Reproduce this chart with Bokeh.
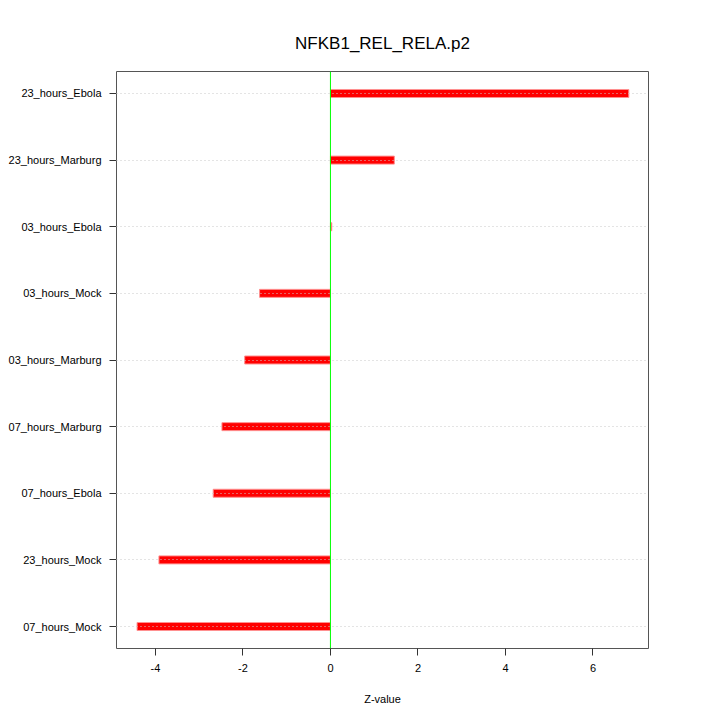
from bokeh.plotting import figure
from bokeh.models import Span, FixedTicker, Range1d
from bokeh.embed import file_html
from bokeh.resources import INLINE

categories = ["07_hours_Mock", "23_hours_Mock", "07_hours_Ebola", "07_hours_Marburg",
              "03_hours_Marburg", "03_hours_Mock", "03_hours_Ebola", "23_hours_Marburg",
              "23_hours_Ebola"]
zvalues = [-4.42, -3.92, -2.68, -2.48, -1.96, -1.62, 0.03, 1.46, 6.82]
x_ticks = [-4, -2, 0, 2, 4, 6]

ypos = list(range(1, len(categories) + 1))

p = figure(width=712, height=712, output_backend="svg", toolbar_location=None,
           x_range=Range1d(-4.89, 7.27), y_range=Range1d(0.67, 9.33),
           min_border_left=116, min_border_right=64, min_border_top=71, min_border_bottom=64,
           title="NFKB1_REL_RELA.p2")
p.title.align = "center"
p.title.text_font = "Liberation Sans"
p.title.text_font_size = "17px"
p.title.text_font_style = "normal"
p.title.text_color = "black"
p.title.standoff = 37

p.outline_line_color = "#555555"
p.outline_line_width = 1
p.background_fill_color = "white"
p.border_fill_color = "white"

p.hbar(y=ypos, left=0, right=zvalues, height=0.12, fill_color="#ff0000",
       line_color="#ff9090", line_width=1)

p.xgrid.visible = False
p.ygrid.ticker = FixedTicker(ticks=ypos)
p.ygrid.grid_line_color = "#c8c8c8"
p.ygrid.grid_line_dash = "1 3"
p.ygrid.level = "overlay"

p.add_layout(Span(location=0, dimension="height", line_color="#00ff00", line_width=1))

p.xaxis.ticker = FixedTicker(ticks=x_ticks)
p.xaxis.major_label_overrides = {t: str(t) for t in x_ticks}
p.xaxis.axis_label = "Z-value"
p.xaxis.axis_label_text_font = "Liberation Sans"
p.xaxis.axis_label_text_font_size = "11px"
p.xaxis.axis_label_text_font_style = "normal"
p.xaxis.axis_label_text_color = "black"
p.xaxis.axis_label_standoff = 18
p.xaxis.major_label_text_font = "Liberation Sans"
p.xaxis.major_label_text_font_size = "11px"
p.xaxis.major_label_text_color = "black"
p.xaxis.major_label_standoff = 8

p.yaxis.ticker = FixedTicker(ticks=ypos)
p.yaxis.major_label_overrides = {y: c for y, c in zip(ypos, categories)}
p.yaxis.major_label_text_font = "Liberation Sans"
p.yaxis.major_label_text_font_size = "11px"
p.yaxis.major_label_text_color = "black"
p.yaxis.major_label_standoff = 8

for ax in (p.xaxis, p.yaxis):
    ax.axis_line_color = None
    ax.major_tick_line_color = "#333333"
    ax.major_tick_out = 7
    ax.major_tick_in = 0
    ax.minor_tick_line_color = None

open("out.html", "w").write(file_html(p, INLINE))
